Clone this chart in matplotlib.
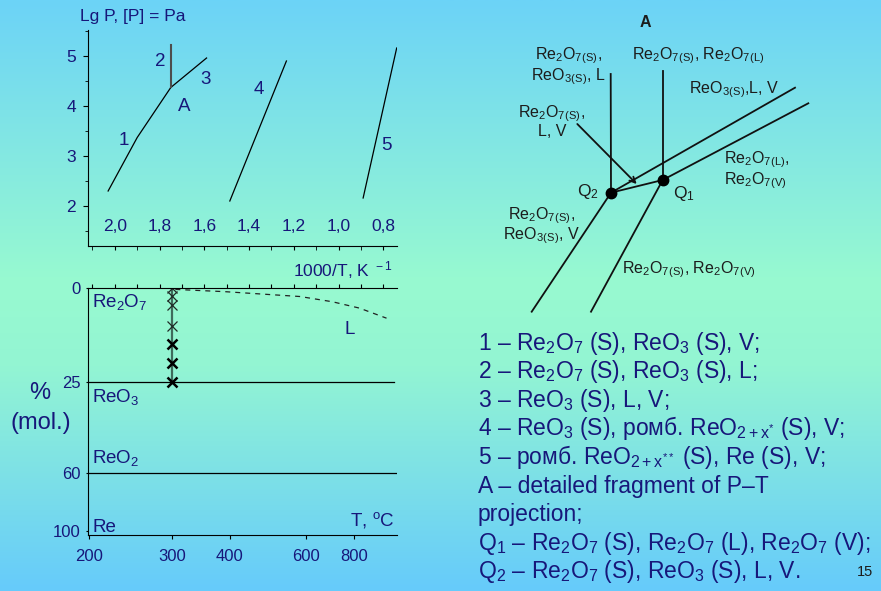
#!/usr/bin/env python
# -*- coding: utf-8 -*-

import matplotlib
matplotlib.use("Agg")
import matplotlib.pyplot as plt
import numpy as np
from matplotlib.colors import LinearSegmentedColormap

plt.rcParams["font.family"] = ["Liberation Sans", "DejaVu Sans"]
plt.rcParams["mathtext.fontset"] = "custom"
plt.rcParams["mathtext.rm"] = "Liberation Sans"
plt.rcParams["mathtext.it"] = "Liberation Sans:italic"
plt.rcParams["mathtext.bf"] = "Liberation Sans:bold"

NAVY = "#17177a"
INK = "#1c1c1c"

# --- P-T projection: x = 1000/T (K^-1), y = lg P (Pa)
line1_x = [2.03, 1.90, 1.75]
line1_y = [2.30, 3.37, 4.37]
line2_x = [1.75, 1.75]
line2_y = [4.37, 5.21]
line3_x = [1.75, 1.59]
line3_y = [4.37, 4.96]
line4_x = [1.486, 1.233]
line4_y = [2.10, 4.90]
line5_x = [0.890, 0.740]
line5_y = [2.16, 5.16]
curve_names = ["1", "2", "3", "A", "4", "5"]
curve_name_x = [1.96, 1.797, 1.596, 1.688, 1.356, 0.785]
curve_name_y = [3.31, 4.88, 4.52, 3.99, 4.32, 3.20]
inv_t_ticks = [2.0, 1.8, 1.6, 1.4, 1.2, 1.0, 0.8]
inv_t_labels = ["2,0", "1,8", "1,6", "1,4", "1,2", "1,0", "0,8"]
inv_t_minor = [2.1, 1.9, 1.7, 1.5, 1.3, 1.1, 0.9]
lgp_ticks = [2, 3, 4, 5]
lgp_minor = [1.5, 2.5, 3.5, 4.5, 5.5]
inv_t_lim = (2.12, 0.7386)
lgp_lim = (1.2, 5.52)

# --- T-x projection: x = T (deg C), y = % (mol.)
temp_ticks = [200, 300, 400, 600, 800]
comp_ticks = [0, 25, 60, 100]
comp_lines = [25, 60]
phase_names = [r"Re$_2$O$_7$", r"ReO$_3$", r"ReO$_2$", "Re"]
phase_name_y = [3.8, 30.7, 54.0, 97.5]
peritectic_t = 300
cross_thin = [0, 2, 4.5, 10]
cross_bold = [15, 20, 25]
liquid_t = [305, 390, 580, 700, 830, 1000]
liquid_x = [0.3, 0.9, 2.2, 3.6, 5.3, 8.0]

# composition axis is drawn non-uniformly, as in the source figure
comp_knots = [0, 25, 60, 100, 110]
comp_pix = [0, 93.4, 185.0, 242.4, 256.8]

# --- fragment A (schematic, drawing units)
seg_x0 = [610.7, 662.7, 611.0, 611.0, 662.7, 611.0, 662.7]
seg_y0 = [74.0, 70.7, 192.7, 192.7, 180.0, 192.7, 180.0]
seg_x1 = [611.0, 662.7, 795.0, 662.7, 808.3, 531.7, 591.0]
seg_y1 = [192.7, 180.0, 87.7, 180.0, 103.3, 311.7, 311.7]
quad_x = [662.7, 611.0]
quad_y = [180.0, 192.7]
arrow_from = (577.3, 124.0)
arrow_to = (636.7, 184.0)

S = r"$_{\rm (S)}$"
Lq = r"$_{\rm (L)}$"
V = r"$_{\rm (V)}$"
RE2O7 = r"Re$_2$O$_7$"
REO3 = r"ReO$_3$"
frag_texts = [
    (568.3, 66.0, RE2O7 + S + ",\n" + REO3 + S + ", L", "center"),
    (698.0, 56.0, RE2O7 + S + ", " + RE2O7 + Lq, "center"),
    (733.8, 89.3, REO3 + S + ",L, V", "center"),
    (551.8, 121.4, RE2O7 + S + ",\nL, V", "center"),
    (724.3, 170.5, RE2O7 + Lq + ",\n" + RE2O7 + V, "left"),
    (541.5, 225.8, RE2O7 + S + ",\n" + REO3 + S + ", V", "center"),
    (688.5, 269.3, RE2O7 + S + ", " + RE2O7 + V, "center"),
]

legend_lines = [
    r"1 – Re$_2$O$_7$ (S), ReO$_3$ (S), V;",
    r"2 – Re$_2$O$_7$ (S), ReO$_3$ (S), L;",
    r"3 – ReO$_3$ (S), L, V;",
    r"4 – ReO$_3$ (S), ромб. ReO$_{\rm 2+x^{*}}$ (S), V;",
    r"5 – ромб. ReO$_{\rm 2+x^{**}}$ (S), Re (S), V;",
    "A – detailed fragment of P–T",
    "projection;",
    r"Q$_1$ – Re$_2$O$_7$ (S), Re$_2$O$_7$ (L), Re$_2$O$_7$ (V);",
    r"Q$_2$ – Re$_2$O$_7$ (S), ReO$_3$ (S), L, V.",
]
legend_y_px = [343.3, 371.7, 400.0, 428.3, 456.7, 486.7, 515.0, 543.3, 571.7]

W, H = 881, 591
fig = plt.figure(figsize=(W / 100, H / 100), dpi=100)

# background gradient
bg = fig.add_axes([0, 0, 1, 1], zorder=-10)
cmap = LinearSegmentedColormap.from_list(
    "slide", [(0.0, "#6cd3f7"), (0.48, "#98fad0"), (0.62, "#93f5d3"), (1.0, "#66cbfb")])
bg.imshow(np.linspace(0, 1, 256).reshape(-1, 1), cmap=cmap, aspect="auto", extent=[0, 1, 0, 1])
bg.axis("off")


def fig_box(x0, y0, x1, y1):
    return [x0 / W, 1 - y1 / H, (x1 - x0) / W, (y1 - y0) / H]


# ---------------- P-T projection
ax = fig.add_axes(fig_box(88, 30, 397, 246))
ax.patch.set_alpha(0)
for xs, ys in [(line1_x, line1_y), (line3_x, line3_y), (line4_x, line4_y), (line5_x, line5_y)]:
    ax.plot(xs, ys, color="black", lw=0.9)
ax.plot(line2_x, line2_y, color="#4d4d4d", lw=1.5)
for name, x, y in zip(curve_names, curve_name_x, curve_name_y):
    ax.text(x, y, name, color=NAVY, fontsize=13.5, ha="center", va="center")
ax.set_xlim(*inv_t_lim)
ax.set_ylim(*lgp_lim)
ax.spines[["top", "right"]].set_visible(False)
ax.set_xticks(inv_t_ticks, inv_t_labels)
ax.set_xticks(inv_t_minor, minor=True)
ax.set_yticks(lgp_ticks)
ax.set_yticks(lgp_minor, minor=True)
ax.tick_params(axis="x", which="both", direction="out", length=3, labelsize=12.5,
               labelcolor=NAVY, pad=-22.5)
ax.tick_params(axis="y", which="major", direction="out", length=3.5, labelsize=12.5,
               labelcolor=NAVY, pad=5)
ax.tick_params(axis="y", which="minor", direction="out", length=2.5)
fig.text(80 / W, 1 - 16 / H, "Lg P, [P] = Pa", color=NAVY, fontsize=12.5, va="center")
fig.text(393 / W, 1 - 270 / H, r"1000/T, K $^{\rm -1}$", color=NAVY, fontsize=12.5,
         ha="right", va="center")

# ---------------- T-x projection
bx = fig.add_axes(fig_box(88, 288.3, 397, 535))
bx.patch.set_alpha(0)
bx.set_xscale("function", functions=(lambda t: -1000.0 / (np.asarray(t) + 273.15),
                                     lambda u: -1000.0 / np.asarray(u) - 273.15))
bx.set_yscale("function", functions=(lambda v: np.interp(v, comp_knots, comp_pix),
                                     lambda p: np.interp(p, comp_pix, comp_knots)))
bx.set_xlim(1000 / inv_t_lim[0] - 273.15, 1000 / inv_t_lim[1] - 273.15)
bx.set_ylim(103, 0)
bx.axhline(comp_lines[0], xmax=0.99, color="black", lw=0.9)
bx.axhline(comp_lines[1], color="black", lw=0.9)
bx.plot([peritectic_t, peritectic_t], [0, 25], color="#3f6b5c", lw=1.6)
bx.plot([peritectic_t] * len(cross_thin), cross_thin, "x", color="#1f2a26", ms=6.5, mew=0.9)
bx.plot([peritectic_t] * len(cross_bold), cross_bold, "x", color="black", ms=6.5, mew=1.8)
bx.plot(liquid_t, liquid_x, color="#222222", lw=0.9, dashes=(4, 4))
bx.text(780, 11, "L", color=NAVY, fontsize=13.5, ha="center", va="center")
for name, y in zip(phase_names, phase_name_y):
    bx.text(203, y, name, color=NAVY, fontsize=13.5, ha="left", va="center")
bx.text(0.9935, 0.061, r"T, $^{\rm o}$C", transform=bx.transAxes, color=NAVY, fontsize=13.5,
        ha="right", va="center")
bx.spines["right"].set_visible(False)
bx.set_xticks(temp_ticks, [str(t) for t in temp_ticks])
bx.set_xticks([], minor=True)
bx.set_yticks(comp_ticks)
bx.set_yticks([], minor=True)
bx.tick_params(axis="x", direction="out", length=3, labelsize=12, labelcolor=NAVY, pad=7)
bx.tick_params(axis="y", direction="out", length=1.5, labelsize=12, labelcolor=NAVY, pad=4)

tx = bx.twiny()
tx.set_xlim(*inv_t_lim)
tx.set_xticks(sorted(inv_t_ticks + inv_t_minor))
tx.tick_params(axis="x", direction="out", length=3, labeltop=False)
for sp in tx.spines.values():
    sp.set_visible(False)

fig.text(40 / W, 1 - 393 / H, "%", color=NAVY, fontsize=17, ha="center", va="center")
fig.text(40.7 / W, 1 - 423 / H, "(mol.)", color=NAVY, fontsize=17, ha="center", va="center")

# ---------------- fragment A
cx = fig.add_axes(fig_box(490, 0, 881, 320))
cx.patch.set_alpha(0)
cx.set_xlim(490, 881)
cx.set_ylim(320, 0)
cx.axis("off")
for x0, y0, x1, y1 in zip(seg_x0, seg_y0, seg_x1, seg_y1):
    cx.plot([x0, x1], [y0, y1], color="#111111", lw=1.3)
cx.plot(quad_x, quad_y, "o", color="black", ms=7.5)
cx.annotate("", xy=arrow_to, xytext=arrow_from,
            arrowprops=dict(arrowstyle="->", color="#111111", lw=1.3, shrinkA=0, shrinkB=0))
cx.text(645.3, 22.7, "A", color=INK, fontsize=11.5, fontweight="bold", ha="center", va="center")
cx.text(577, 191.7, r"Q$_2$", color=INK, fontsize=12.5, ha="left", va="center")
cx.text(672.7, 193.3, r"Q$_1$", color=INK, fontsize=12.5, ha="left", va="center")
for x, y, s, ha in frag_texts:
    cx.text(x, y, s, color=INK, fontsize=11.5, ha=ha, va="center", multialignment=ha,
            linespacing=1.0)

# ---------------- legend text
for s, y in zip(legend_lines, legend_y_px):
    fig.text(478 / W, 1 - y / H, s, color=NAVY, fontsize=16.5, ha="left", va="center")
fig.text(865 / W, 1 - 571.7 / H, "15", color=INK, fontsize=10.5, ha="center", va="center")

fig.savefig("out.png", dpi=100)
